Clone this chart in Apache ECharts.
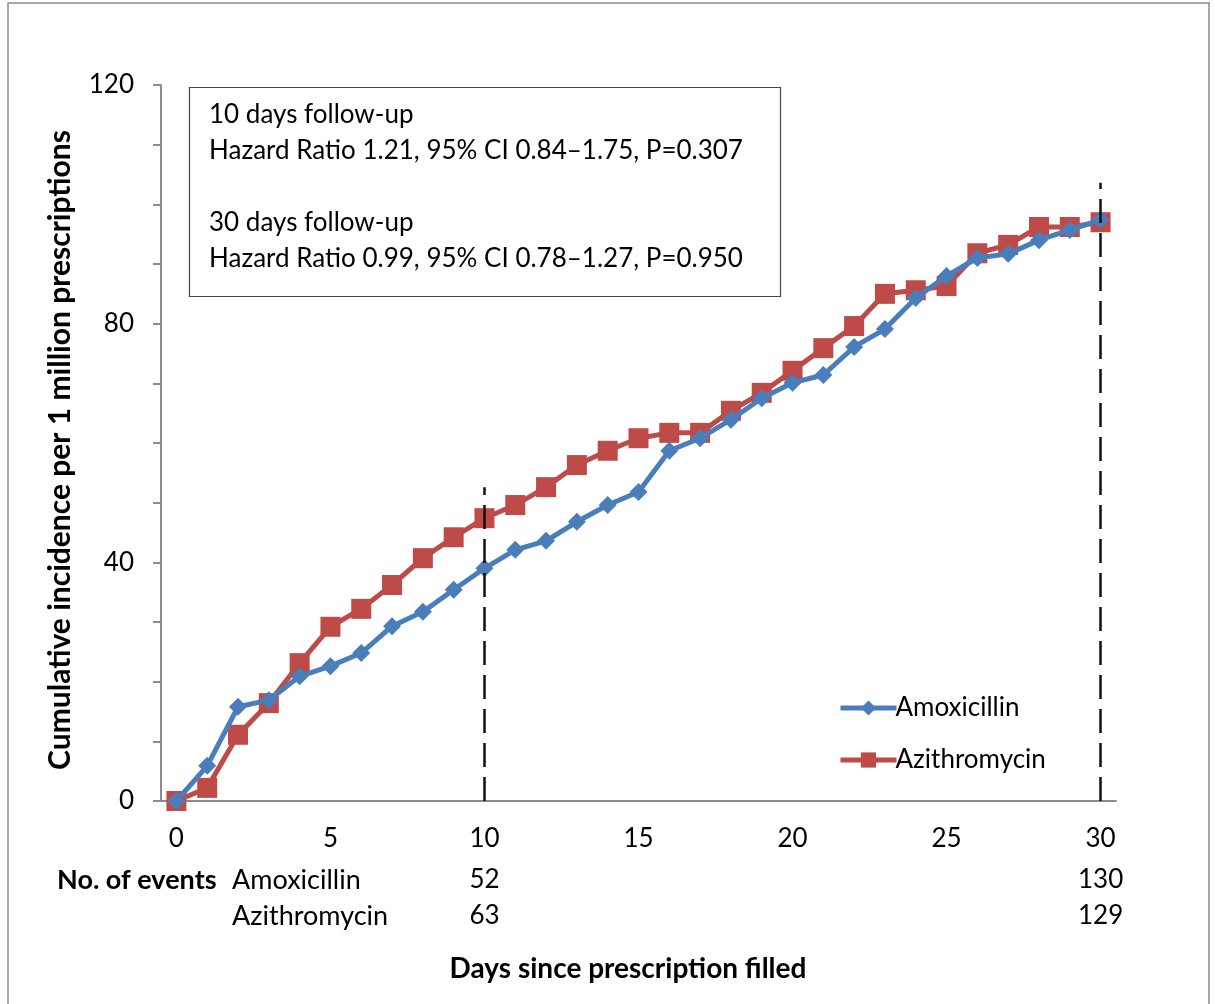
<!DOCTYPE html>
<html>
<head>
<meta charset="utf-8">
<script src="https://cdn.jsdelivr.net/npm/echarts@6/dist/echarts.min.js"></script>
<style>
  html, body { margin: 0; padding: 0; background: #fff; }
  #chart { width: 1215px; height: 1004px; }
</style>
</head>
<body>
<div id="chart"></div>
<script>
// Days since prescription filled (0..30)
const days = Array.from({ length: 31 }, (_, i) => String(i));

// Cumulative incidence per 1 million prescriptions
const amoxicillin = [0, 5.9, 15.8, 16.9, 20.9, 22.6, 24.8, 29.3, 31.7, 35.4, 39.0,
  42.1, 43.6, 46.8, 49.6, 51.8, 58.7, 60.8, 63.9, 67.5, 70.1,
  71.4, 76.1, 79.1, 84.3, 88.0, 91.0, 91.7, 94.0, 95.7, 97.4];
const azithromycin = [0, 2.2, 11.1, 16.4, 23.1, 29.2, 32.2, 36.2, 40.7, 44.2, 47.4,
  49.6, 52.6, 56.3, 58.7, 60.8, 61.7, 61.7, 65.4, 68.4, 72.1,
  75.9, 79.6, 85.0, 85.6, 86.3, 91.8, 93.2, 96.2, 96.2, 97.0];

// Follow-up cut-offs (day, top of dashed marker)
const cutoffs = [[10, 52.6], [30, 103.6]];

// Number of events at each cut-off
const eventDays = [10, 30];
const eventsAmox = [52, 130];
const eventsAzi = [63, 129];

const statLines = [
  '10 days follow-up',
  'Hazard Ratio 1.21, 95% CI 0.84\u20131.75, P=0.307',
  '',
  '30 days follow-up',
  'Hazard Ratio 0.99, 95% CI 0.78\u20131.27, P=0.950'
];

const FONT = 'Lato';
const BLUE = '#4A7EBB';
const RED = '#BE4B48';
const FS = 26;

const chart = echarts.init(document.getElementById('chart'));

const option = {
  animation: false,
  backgroundColor: '#fff',
  textStyle: { fontFamily: FONT },
  grid: { left: 161, right: 99, top: 85, bottom: 203, containLabel: false },
  xAxis: {
    type: 'category',
    data: days,
    boundaryGap: true,
    axisLine: { lineStyle: { color: '#8c8c8c', width: 2 } },
    axisTick: { show: false },
    axisLabel: {
      interval: 4,
      color: '#000',
      fontSize: FS,
      fontFamily: FONT,
      margin: 25
    },
    splitLine: { show: false }
  },
  yAxis: {
    type: 'value',
    min: 0,
    max: 120,
    interval: 10,
    axisLine: { show: true, lineStyle: { color: '#8c8c8c', width: 2 } },
    axisTick: { show: true, inside: false, length: 8, lineStyle: { color: '#8c8c8c', width: 2 } },
    axisLabel: {
      color: '#000',
      fontSize: FS,
      fontFamily: FONT,
      margin: 27,
      formatter: v => (v % 40 === 0 ? String(v) : '')
    },
    splitLine: { show: false },
    name: 'Cumulative incidence per 1 million prescriptions',
    nameLocation: 'middle',
    nameRotate: 90,
    nameGap: 86,
    nameTextStyle: {
      color: '#000', fontSize: 30, fontWeight: 'bold', fontFamily: FONT,
      padding: [0, 14, 0, 0]
    }
  },
  legend: {
    left: 833,
    top: 690,
    orient: 'vertical',
    itemWidth: 56,
    itemHeight: 19,
    itemGap: 26,
    lineStyle: { width: 5 },
    textStyle: { color: '#000', fontSize: FS, fontFamily: FONT, padding: [0, 0, 0, -6] },
    data: ['Amoxicillin', 'Azithromycin']
  },
  series: [
    {
      name: 'Amoxicillin',
      type: 'line',
      data: amoxicillin,
      symbol: 'diamond',
      symbolSize: 18,
      lineStyle: { color: BLUE, width: 5 },
      itemStyle: { color: BLUE },
      z: 3,
      markLine: {
        silent: true,
        symbol: 'none',
        label: { show: false },
        lineStyle: { color: '#111', width: 2.5, type: [24, 10] },
        data: cutoffs.map(([d, top]) => [
          { coord: [String(d), 0] },
          { coord: [String(d), top] }
        ])
      }
    },
    {
      name: 'Azithromycin',
      type: 'line',
      data: azithromycin,
      symbol: 'rect',
      symbolSize: 20,
      lineStyle: { color: RED, width: 5 },
      itemStyle: { color: RED },
      z: 2
    }
  ]
};

chart.setOption(option);

// Annotation text: statistics box, events table, x-axis title, outer frame
const graphics = [
  {
    type: 'rect',
    shape: { x: 8, y: 3, width: 1201, height: 1010 },
    style: { fill: 'none', stroke: '#8c8c8c', lineWidth: 1.5 },
    silent: true
  },
  {
    type: 'rect',
    shape: { x: 189.5, y: 87.5, width: 591, height: 209 },
    style: { fill: '#fff', stroke: '#444', lineWidth: 1.2 },
    z: 10
  }
];

// Statistics box lines
[115, 151, 187, 223, 259].forEach((y, i) => {
  if (!statLines[i]) return;
  graphics.push({
    type: 'text', x: 209, y: y, z: 11,
    style: { text: statLines[i], fontFamily: FONT, fontSize: FS, fill: '#000', verticalAlign: 'middle' }
  });
});

graphics.push(
  {
    type: 'text', x: 57, y: 880,
    style: { text: 'No. of events', fontFamily: FONT, fontSize: 27, fontWeight: 'bold', fill: '#000', verticalAlign: 'middle' }
  },
  {
    type: 'text', x: 232, y: 880,
    style: { text: 'Amoxicillin', fontFamily: FONT, fontSize: 27, fill: '#000', verticalAlign: 'middle' }
  },
  {
    type: 'text', x: 232, y: 916,
    style: { text: 'Azithromycin', fontFamily: FONT, fontSize: 27, fill: '#000', verticalAlign: 'middle' }
  },
  {
    type: 'text', x: 628, y: 969,
    style: {
      text: 'Days since prescription filled',
      fontFamily: FONT, fontSize: 28, fontWeight: 'bold', fill: '#000',
      align: 'center', verticalAlign: 'middle'
    }
  }
);

eventDays.forEach((d, i) => {
  const px = chart.convertToPixel({ xAxisIndex: 0 }, String(d));
  graphics.push({
    type: 'text', x: px, y: 880,
    style: { text: String(eventsAmox[i]), fontFamily: FONT, fontSize: FS, fill: '#000', align: 'center', verticalAlign: 'middle' }
  });
  graphics.push({
    type: 'text', x: px, y: 916,
    style: { text: String(eventsAzi[i]), fontFamily: FONT, fontSize: FS, fill: '#000', align: 'center', verticalAlign: 'middle' }
  });
});

chart.setOption({ graphic: graphics });
</script>
</body>
</html>
